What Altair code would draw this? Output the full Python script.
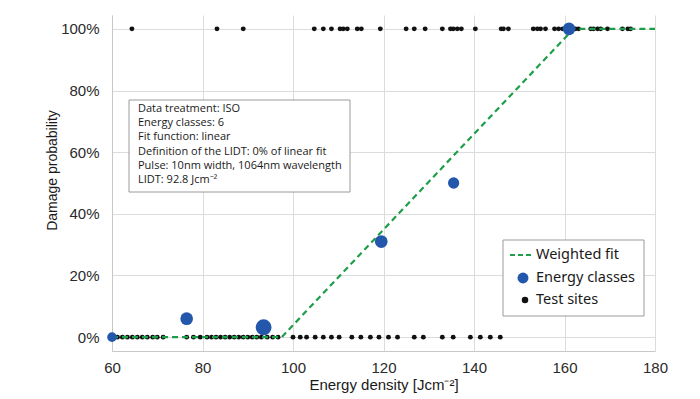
import altair as alt
import pandas as pd

# Test sites (energy density) that did not get damaged (0 %) and that did (100 %)
sites_undamaged = [60, 61.2, 62.3, 63.4, 64.5, 65.6, 66.7, 67.8, 69, 70, 71.3,
                   76.5, 78, 79.5, 81, 82, 83, 84, 85, 86, 87, 88, 89, 90, 91, 92,
                   93, 94.3, 95.5, 96.7, 100, 101.6, 103, 104.9, 106.7, 108.5,
                   110.2, 113, 115, 117.1, 119, 121.1, 123.1, 126.8, 128.8, 133,
                   135.4, 139.2, 141.4, 143.6, 145.8]
sites_damaged = [64.4, 83.2, 89, 104.7, 106.7, 108.5, 110.4, 111.1, 112, 114.2,
                 115.1, 119.3, 125, 126.8, 129.2, 133, 134.8, 135.4, 136.3, 137.2,
                 140.3, 146, 146.5, 147.6, 153.1, 154, 154.7, 155.8, 157.8, 158.7,
                 159.6, 161, 162.4, 163.1, 165.8, 166.4, 167.3, 168, 169.5, 172.8,
                 174, 174.6]

# Energy classes
class_energy = [60, 76.5, 93.5, 119.5, 135.5, 161]
class_prob = [0, 0.06, 0.032, 0.31, 0.50, 1.0]
class_weight = [4, 7, 11, 7, 5.5, 7]

# Weighted linear fit
fit_energy = [60, 97.5, 162, 180]
fit_prob = [0, 0, 1, 1]

x_ticks = [60, 80, 100, 120, 140, 160, 180]
y_ticks = [0, 0.2, 0.4, 0.6, 0.8, 1.0]

info_lines = [
    "Data treatment: ISO",
    "Energy classes: 6",
    "Fit function: linear",
    "Definition of the LIDT: 0% of linear fit",
    "Pulse: 10nm width, 1064nm wavelength",
    "LIDT: 92.8 Jcm⁻²",
]
legend_labels = ["Weighted fit", "Energy classes", "Test sites"]

GREEN = "#1f9e49"
BLUE = "#2357ab"
BLACK = "#111111"

sites = pd.DataFrame({
    "e": sites_undamaged + sites_damaged,
    "p": [0] * len(sites_undamaged) + [1] * len(sites_damaged),
})
classes = pd.DataFrame({"e": class_energy, "p": class_prob, "w": class_weight})
fit = pd.DataFrame({"e": fit_energy, "p": fit_prob})

xscale = alt.Scale(domain=[60, 180], nice=False, zero=False)
yscale = alt.Scale(domain=[-0.045, 1.045], nice=False, zero=False)

xaxis = alt.Axis(values=x_ticks, title="Energy density [Jcm⁻²]", format="d",
                 labelFontSize=15, titleFontSize=15, labelPadding=9,
                 titlePadding=2, ticks=False, labelFlush=False)
yaxis = alt.Axis(values=y_ticks, format=".0%", title="Damage probability",
                 labelFontSize=15, titleFontSize=14, labelPadding=13,
                 ticks=False, titleX=-60, titleY=155, titleBaseline="middle",
                 titleAngle=-90, titleAlign="center", labelFlush=False)

base_sites = alt.Chart(sites).mark_circle(size=24, color=BLACK, opacity=1).encode(
    x=alt.X("e:Q", scale=xscale, axis=xaxis),
    y=alt.Y("p:Q", scale=yscale, axis=yaxis),
)

fit_line = alt.Chart(fit).mark_line(color=GREEN, strokeWidth=2.2,
                                    strokeDash=[6, 4]).encode(
    x=alt.X("e:Q", scale=xscale),
    y=alt.Y("p:Q", scale=yscale),
)

class_pts = alt.Chart(classes).mark_circle(color=BLUE, opacity=1).encode(
    x=alt.X("e:Q", scale=xscale),
    y=alt.Y("p:Q", scale=yscale),
    size=alt.Size("w:Q", scale=alt.Scale(domain=[0, 11], range=[0, 254]), legend=None),
)

one = alt.Data(values=[{}])

# info box
info_box = alt.Chart(one).mark_rect(fill="white", stroke="#9a9a9a",
                                    strokeWidth=1).encode(
    x=alt.value(17), x2=alt.value(238), y=alt.value(85), y2=alt.value(177))
info_text = alt.Chart(one).mark_text(
    text="\n".join(info_lines), lineBreak="\n", lineHeight=14.2,
    align="left", baseline="top", font="Open Sans", fontSize=11,
    color="#1a1a1a").encode(x=alt.value(26), y=alt.value(88))

# legend
leg_box = alt.Chart(one).mark_rect(fill="white", stroke="#9a9a9a",
                                   strokeWidth=1).encode(
    x=alt.value(391), x2=alt.value(532), y=alt.value(225), y2=alt.value(301))
leg_line = alt.Chart(one).mark_rule(color=GREEN, strokeWidth=2,
                                    strokeDash=[5, 3]).encode(
    x=alt.value(398), x2=alt.value(419), y=alt.value(240))
leg_blue = alt.Chart(one).mark_circle(color=BLUE, opacity=1, size=120).encode(
    x=alt.value(411), y=alt.value(263))
leg_black = alt.Chart(one).mark_circle(color=BLACK, opacity=1, size=42).encode(
    x=alt.value(413), y=alt.value(285))
leg_texts = [
    alt.Chart(one).mark_text(text=lbl, align="left", baseline="middle",
                             font="Noto Sans", fontSize=14.5,
                             color="#1a1a1a").encode(x=alt.value(424), y=alt.value(yv))
    for lbl, yv in zip(legend_labels, [240, 263, 285])
]

chart = alt.layer(
    base_sites, fit_line, class_pts, info_box, info_text,
    leg_box, leg_line, leg_blue, leg_black, *leg_texts
).properties(
    width=543, height=336,
    autosize=alt.AutoSizeParams(type="none"),
    padding={"left": 112, "top": 15, "right": 45, "bottom": 48},
    background="white",
).configure_view(stroke=None).configure_axis(
    labelFont="Liberation Sans", titleFont="Liberation Sans",
    labelColor="#2a2a2a", titleColor="#1a1a1a", titleFontWeight="normal",
    gridColor="#dcdcdc", gridWidth=1, domainColor="#c8c8c8", domainWidth=1,
)

chart.save("out.html", embed_options={"renderer": "svg", "actions": False})
